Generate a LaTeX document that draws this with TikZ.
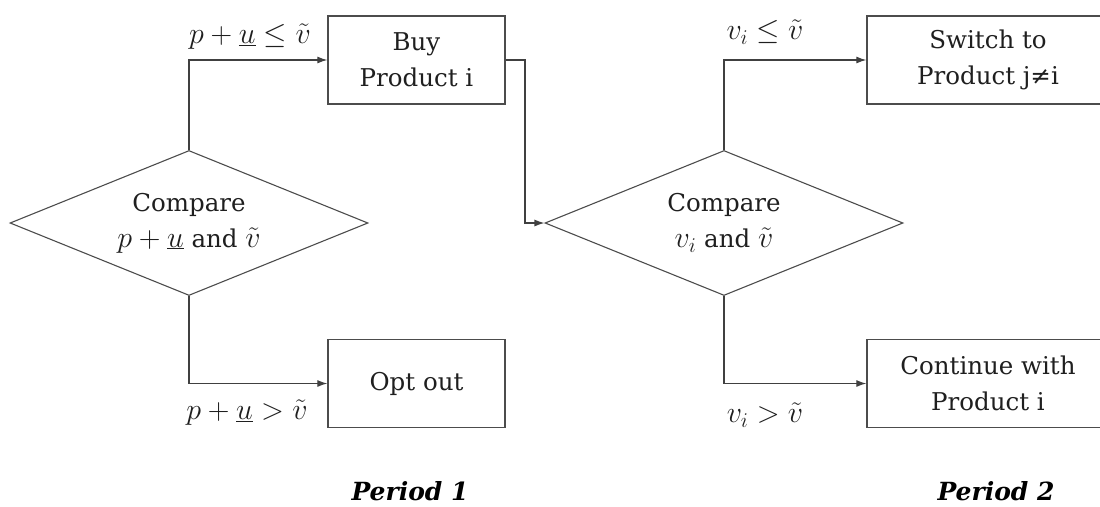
\RequirePackage{fix-cm}
\documentclass[tikz,border=0pt]{standalone}
\usepackage{fontspec}
\setmainfont{DejaVu Serif}
\usetikzlibrary{shapes.geometric,arrows.meta}
\newcommand{\mymath}[1]{{\fontsize{30}{36}\selectfont$#1$}}
\begin{document}
\begin{tikzpicture}[x=1pt,y=-1pt,
  every node/.style={font=\fontsize{24.5}{36}\selectfont, text=black!88, inner sep=1pt},
  boxnode/.style={draw=black!70, line width=1.3pt, minimum height=88pt, inner sep=0pt, align=center},
  dia/.style={draw=black!70, line width=1.1pt, shape=diamond, aspect=2.47, inner sep=0pt, minimum width=358pt, minimum height=145pt, align=center},
  conn/.style={draw=black!75, line width=1.2pt},
  arr/.style={conn, -{Latex[length=10pt,width=7pt]}},
  period/.style={font=\fontsize{25}{34}\selectfont\bfseries\itshape, text=black}]
\useasboundingbox (0,0) rectangle (1100,506);
\node[dia] (d1) at (189,223) {Compare\\\mymath{p+\underline{u}} and \mymath{\tilde{v}}};
\node[dia] (d2) at (724,223) {Compare\\\mymath{v_i} and \mymath{\tilde{v}}};
\node[boxnode, minimum width=177pt] (buy) at (416.5,60) {Buy\\Product i};
\node[boxnode, minimum width=177pt] (opt) at (416.5,383.5) {Opt out};
\node[boxnode, minimum width=242pt] (sw) at (988,60) {Switch to\\Product j≠i};
\node[boxnode, minimum width=242pt] (cont) at (988,383.5) {Continue with\\Product i};
\coordinate (bend) at (525,60);
\draw[arr] (d1.north) |- (buy.west);
\draw[arr] (d1.south) |- (opt.west);
\draw[arr] (buy.east) -- (bend) |- (d2.west);
\draw[arr] (d2.north) |- (sw.west);
\draw[arr] (d2.south) |- (cont.west);
\node (l1) at (250,37) {\mymath{p+\underline{u}\le\tilde{v}}};
\node (l2) at (247,413) {\mymath{p+\underline{u}>\tilde{v}}};
\node (l3) at (765,32) {\mymath{v_i\le\tilde{v}}};
\node (l4) at (765,415) {\mymath{v_i>\tilde{v}}};
\node[period] (p1) at (410,491) {Period 1};
\node[period] (p2) at (996,491) {Period 2};
\end{tikzpicture}
\end{document}
